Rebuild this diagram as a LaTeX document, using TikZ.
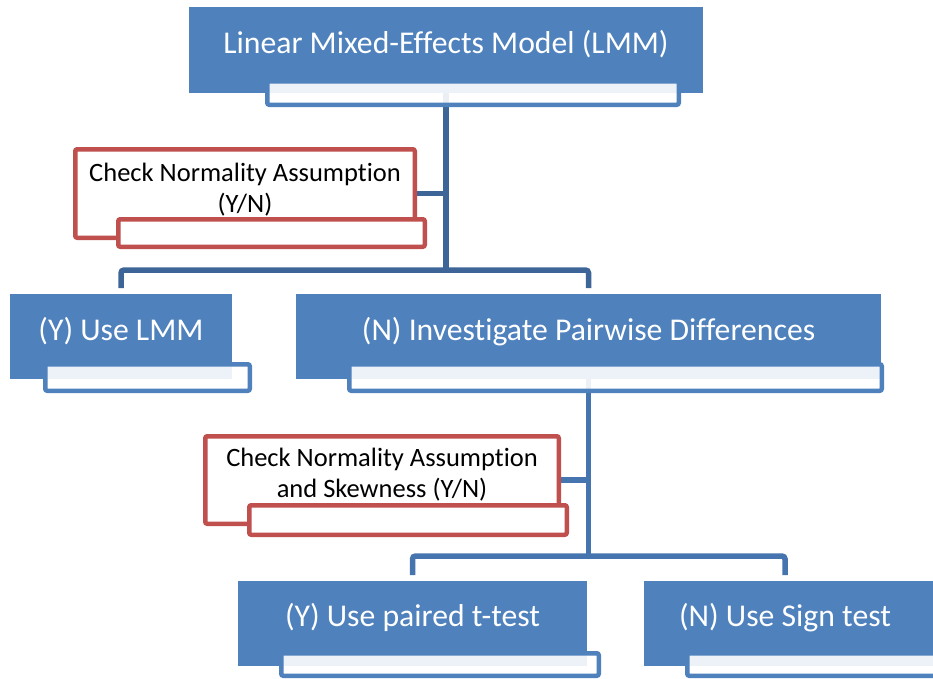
\documentclass[tikz,border=0pt]{standalone}
\usepackage{fontspec}
\setmainfont{Carlito}[Ligatures=NoCommon]
\usetikzlibrary{backgrounds,calc}
\definecolor{boxblue}{RGB}{79,129,189}
\definecolor{lineA}{RGB}{61,101,152}
\definecolor{lineB}{RGB}{70,116,174}
\definecolor{boxred}{RGB}{192,80,77}
\begin{document}
\begin{tikzpicture}[x=1pt,y=-1pt,
  bluebox/.style={fill=boxblue, draw=none, inner sep=0pt, outer sep=0pt},
  tagbox/.style={draw=boxblue, line width=4.5pt, fill=white, fill opacity=0.9, rounded corners=2pt, inner sep=0pt, outer sep=0pt},
  redbox/.style={draw=boxred, line width=4.5pt, fill=white, rounded corners=2pt, inner sep=0pt, outer sep=0pt},
  bluetext/.style={text=white, font=\fontsize{31.7}{38}\selectfont, inner sep=0pt, anchor=base},
  redtext/.style={text=black, font=\fontsize{26.5}{31}\selectfont, align=center, inner sep=0pt, anchor=base},
  linkA/.style={draw=lineA, line width=5.5pt, rounded corners=3pt},
  linkB/.style={draw=lineB, line width=5.5pt, rounded corners=3pt}]
\useasboundingbox (0,0) rectangle (933,678);
% blue boxes
\node[bluebox, minimum width=514pt, minimum height=86pt] (T) at (446,50) {};
\node[bluebox, minimum width=222pt, minimum height=85pt] (YL) at (121,336.5) {};
\node[bluebox, minimum width=585pt, minimum height=85pt] (N) at (588.5,336.5) {};
\node[bluebox, minimum width=349pt, minimum height=85pt] (YP) at (412.5,623.5) {};
\node[bluebox, minimum width=300pt, minimum height=85pt, anchor=west] (NS) at (644,623.5) {};
% tag boxes
\node[tagbox, minimum width=411.5pt, minimum height=23.5pt] (Tw) at (473,93) {};
\node[tagbox, minimum width=204.5pt, minimum height=26.5pt] (YLw) at (147.5,377.5) {};
\node[tagbox, minimum width=532.5pt, minimum height=26.5pt] (Nw) at (615.5,377.5) {};
\node[tagbox, minimum width=317.5pt, minimum height=22.5pt] (YPw) at (440,664.5) {};
\node[tagbox, minimum width=300pt, minimum height=22.5pt, anchor=west] (NSw) at (687.25,664.5) {};
% texts
\node[bluetext] (Tt) at (446,53) {Linear Mixed-Effects Model (LMM)};
\node[bluetext] (YLt) at (121,340) {(Y) Use LMM};
\node[bluetext] (Nt) at (588.5,340) {(N) Investigate Pairwise Differences};
\node[bluetext] (YPt) at (412.5,626) {(Y) Use paired t-test};
\node[bluetext] (NSt) at (785,626) {(N) Use Sign test};
% red boxes
\node[redbox, minimum width=339.5pt, minimum height=88.5pt] (R1) at (245,193.5) {};
\node[redbox, minimum width=306.5pt, minimum height=27.5pt] (R1w) at (271.5,233) {};
\node[redtext] (R1t) at (245,212) {Check Normality Assumption\\(Y/N)};
\node[redbox, minimum width=353.5pt, minimum height=87.5pt] (R2) at (382,480) {};
\node[redbox, minimum width=317.5pt, minimum height=29.5pt] (R2w) at (408,520) {};
\node[redtext] (R2t) at (382,497) {Check Normality Assumption\\and Skewness (Y/N)};
% connectors
\begin{scope}[on background layer]
\draw[linkA] (T.south) -- ($(T.south)+(0,177)$) coordinate (F1);
\draw[linkA] ($(YL.north)+(0,-6)$) |- (F1) -| ($(N.north)+(0,-6)$);
\draw[linkA] (R1.east) -- (R1.east -| T.south);
\draw[linkB] (N.south) -- ($(N.south)+(0,177)$) coordinate (F2);
\draw[linkB] ($(YP.north)+(0,-6)$) |- (F2) -| ($(NSt |- NS.north)+(0,-6)$);
\draw[linkB] (R2.east) -- (R2.east -| N.south);
\end{scope}
\end{tikzpicture}
\end{document}
